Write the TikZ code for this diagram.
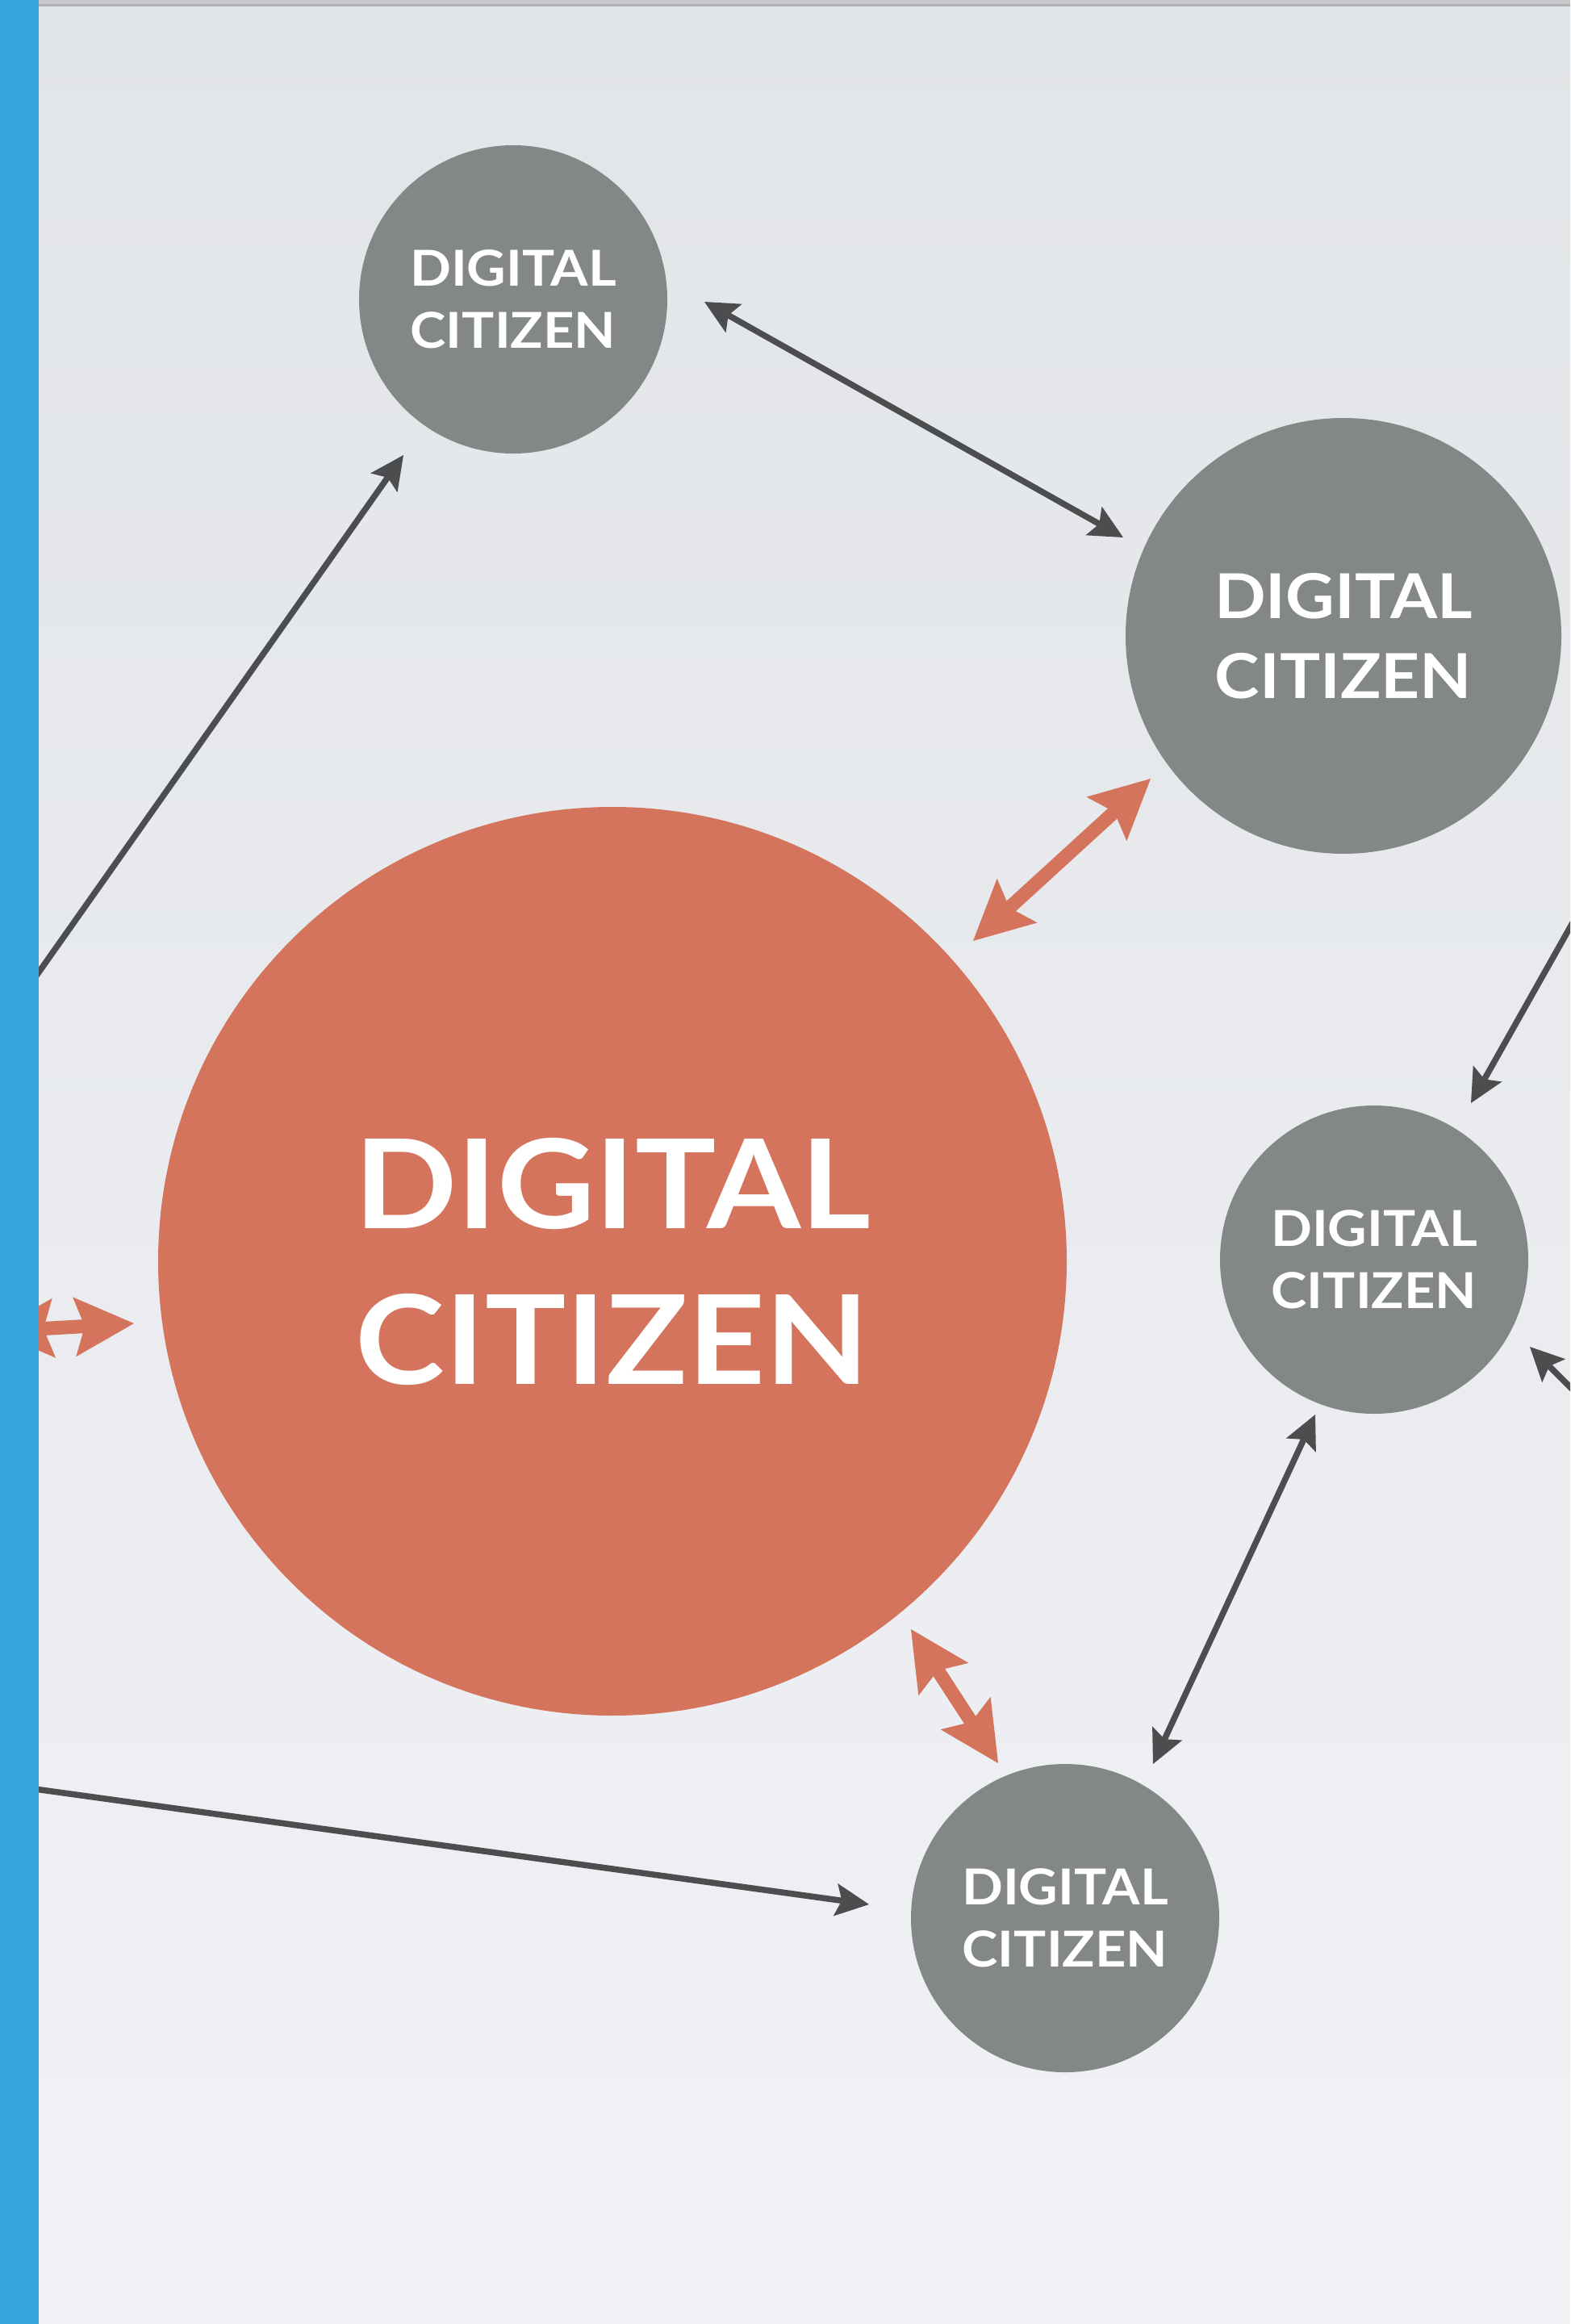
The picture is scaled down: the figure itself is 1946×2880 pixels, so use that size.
\documentclass[tikz,border=0pt]{standalone}
\usepackage{fontspec}
\setmainfont{Lato}[FakeStretch=1.09]
\usetikzlibrary{arrows.meta}
\definecolor{bgtop}{RGB}{225,228,232}
\definecolor{bgbot}{RGB}{241,242,245}
\definecolor{barblue}{RGB}{52,164,220}
\definecolor{cgray}{RGB}{131,136,134}
\definecolor{corange}{RGB}{212,116,92}
\definecolor{adark}{RGB}{76,77,78}
\definecolor{stripA}{RGB}{200,201,204}
\definecolor{stripB}{RGB}{176,178,181}
\tikzset{
  BlkTip/.tip={Stealth[length=42pt,width=41pt,inset=8pt,line width=0pt]},
  OrgTip/.tip={Stealth[length=74pt,width=74pt,inset=13pt,line width=0pt]},
  citizen/.style={circle, fill=cgray, draw=none, inner sep=0pt, text=white, align=center},
  smallcit/.style={citizen, minimum size=382pt, font=\fontsize{61.4}{77}\selectfont\bfseries},
  mediumcit/.style={citizen, minimum size=540pt, font=\fontsize{76.8}{99}\selectfont\bfseries},
  centralcit/.style={citizen, fill=corange, minimum size=1126pt, font=\fontsize{153.5}{193}\selectfont\bfseries},
  blk/.style={draw=adark, line width=7.5pt, -{BlkTip}},
  blkboth/.style={draw=adark, line width=7.5pt, {BlkTip}-{BlkTip}},
  org/.style={draw=corange, line width=17pt, {OrgTip}-{OrgTip}},
}
\begin{document}
\begin{tikzpicture}[x=1pt,y=-1pt]
\useasboundingbox (0,0) rectangle (1946,2880);
\clip (0,0) rectangle (1946,2880);
\shade[top color=bgtop, bottom color=bgbot] (0,0) rectangle (1946,2880);

\node[centralcit] (c0) at (759,1563) {DIGITAL\\CITIZEN};
\node[smallcit] (c1) at (636,371) {DIGITAL\\CITIZEN};
\node[mediumcit] (c2) at (1665,788) {DIGITAL\\CITIZEN};
\node[smallcit] (c4) at (1703,1561) {DIGITAL\\CITIZEN};
\node[smallcit] (c5) at (1320,2377) {DIGITAL\\CITIZEN};

\coordinate (lb) at (0,1273);
\coordinate (li) at (0,2211);
\coordinate (rd) at (1960,1124);
\coordinate (re) at (1960,1733);
\coordinate (lf) at (-7,1650);

\draw[blkboth] ([shift={(237,3)}]c1.center) -- ([shift={(-273,-122)}]c2.center);
\draw[blk] (lb) -- ([shift={(-136,193)}]c1.center);
\draw[org] ([shift={(447,-397)}]c0.center) -- ([shift={(-239,177)}]c2.center);
\draw[blk] (rd) -- ([shift={(120,-194)}]c4.center);
\draw[blk] (re) -- ([shift={(193,108)}]c4.center);
\draw[org] (lf) -- ([shift={(-593,77)}]c0.center);
\draw[org] ([shift={(370,456)}]c0.center) -- ([shift={(-83,-192)}]c5.center);
\draw[blkboth] ([shift={(-73,192)}]c4.center) -- ([shift={(109,-191)}]c5.center);
\draw[blk] (li) -- ([shift={(-243,-17)}]c5.center);

\fill[barblue] (0,0) rectangle (48,2880);
\fill[stripA] (48,0) rectangle (1946,5);
\fill[stripB] (48,5) rectangle (1946,8);
\end{tikzpicture}
\end{document}
